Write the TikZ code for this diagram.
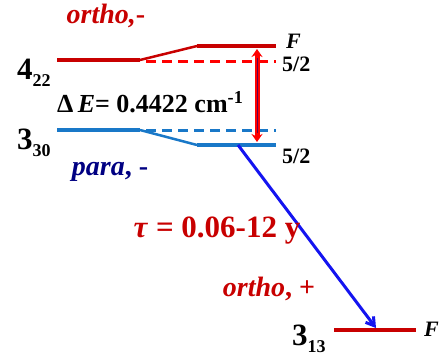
\documentclass[tikz,border=0pt]{standalone}
\usepackage{fontspec}
\setmainfont{Liberation Serif}
\usetikzlibrary{arrows.meta}

\definecolor{ored}{RGB}{200,0,0}
\definecolor{dred}{RGB}{255,0,0}
\definecolor{pblue}{RGB}{25,120,200}
\definecolor{pnavy}{RGB}{0,0,130}
\definecolor{tblue}{RGB}{20,20,240}

\newcommand{\lev}[2]{{\fontsize{31}{33}\selectfont\bfseries #1}\raisebox{-7pt}{\fontsize{18}{19}\selectfont\bfseries #2}}

\tikzset{
  level/.style={line width=4pt},
  slant/.style={line width=2.5pt},
  split/.style={line width=3pt, dash pattern=on 10pt off 6pt},
  lbl/.style={inner sep=0pt, font=\fontsize{28}{30}\selectfont\bfseries},
  small/.style={inner sep=0pt, anchor=west, font=\fontsize{22}{24}\selectfont\bfseries}
}

\begin{document}
\begin{tikzpicture}[x=1pt, y=-1pt]
\useasboundingbox (0,0) rectangle (444,356);

% 4_22 level (ortho)
\coordinate (o1) at (57,60);
\coordinate (o2) at (140,60);
\coordinate (o3) at (197,46);
\coordinate (o4) at (276,46);
\coordinate (o5) at (146,61);
\coordinate (o6) at (276,61);
\draw[level, ored] (o1) -- (o2);
\draw[slant, ored] (o2) -- (o3);
\draw[level, ored] (o3) -- (o4);
\draw[split, dred] (o5) -- (o6);

% 3_30 level (para)
\coordinate (p1) at (57,130);
\coordinate (p2) at (140,130);
\coordinate (p3) at (197,145);
\coordinate (p4) at (276,145);
\coordinate (p5) at (146,130);
\coordinate (p6) at (276,130);
\draw[level, pblue] (p1) -- (p2);
\draw[slant, pblue] (p2) -- (p3);
\draw[level, pblue] (p3) -- (p4);
\draw[split, pblue] (p5) -- (p6);

% 3_13 level
\coordinate (q1) at (334,330);
\coordinate (q2) at (416,330);
\draw[level, ored] (q1) -- (q2);

% splitting
\coordinate (de1) at (257,49);
\coordinate (de2) at (257,142);
\draw[line width=5pt, dred, {Stealth[length=8pt,width=11pt]}-{Stealth[length=8pt,width=11pt]}] (de1) -- (de2);
\draw[line width=0.8pt, pnavy!60!dred, shorten <=9pt, shorten >=9pt] (de1) -- (de2);

% decay
\coordinate (t1) at (238,145);
\coordinate (t2) at (376,328);
\draw[line width=3pt, tblue, -{Straight Barb[length=8pt,width=10pt]}] (t1) -- (t2);

% labels
\node[lbl, ored] (lortho) at (106,16) {\itshape ortho,\upshape-};
\node[lbl, anchor=west] (l422) at (17,73) {\lev{4}{22}};
\node[lbl, anchor=west] (l330) at (17,143) {\lev{3}{30}};
\node[lbl, anchor=west, font=\fontsize{26}{28}\selectfont\bfseries] (lde) at (57,102) {Δ\,\textit{E}= 0.4422 cm\textsuperscript{-1}};
\node[lbl, pnavy] (lpara) at (110,172) {\itshape para\upshape, -};
\node[lbl, ored, font=\fontsize{31}{33}\selectfont\bfseries] (ltau) at (217,231) {\textit{τ} = 0.06-12 y};
\node[lbl, ored] (lortho2) at (269,289) {\itshape ortho\upshape, +};
\node[lbl, anchor=west] (l313) at (292,339) {\lev{3}{13}};
\node[small, font=\fontsize{22}{24}\selectfont\bfseries\itshape] (fa) at (286,41) {F};
\node[small, font=\fontsize{22}{24}\selectfont\bfseries\itshape] (fb) at (424,329) {F};
\node[small] (h1) at (282,64) {5/2};
\node[small] (h2) at (282,156) {5/2};
\end{tikzpicture}
\end{document}
